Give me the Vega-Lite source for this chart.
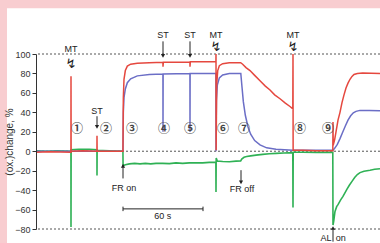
{
  "$schema": "https://vega.github.io/schema/vega-lite/v6.json",
  "width": 344,
  "height": 175,
  "autosize": "none",
  "padding": {"left": 36, "top": 54, "right": 0, "bottom": 14},
  "background": "#f8cdd0",
  "config": {"view": {"stroke": null}, "font": "Liberation Sans"},
  "datasets": {
    "traces": [
      {"s":"r","t":0,"v":-1},{"s":"r","t":10,"v":-0.5},{"s":"r","t":26.2,"v":-1},{"s":"r","t":26.25,"v":77},{"s":"r","t":26.35,"v":0},{"s":"r","t":35,"v":0.5},{"s":"r","t":45.7,"v":0},{"s":"r","t":45.75,"v":16},{"s":"r","t":45.85,"v":0},{"s":"r","t":55,"v":0},{"s":"r","t":65.2,"v":0},{"s":"r","t":65.5,"v":55},{"s":"r","t":66,"v":74},{"s":"r","t":67,"v":83},{"s":"r","t":68.5,"v":87.5},{"s":"r","t":71,"v":89.5},{"s":"r","t":76,"v":90.5},{"s":"r","t":85,"v":91},{"s":"r","t":95.2,"v":91.5},{"s":"r","t":95.25,"v":87},{"s":"r","t":95.5,"v":91.5},{"s":"r","t":105,"v":91.5},{"s":"r","t":115.45,"v":91.5},{"s":"r","t":115.5,"v":87},{"s":"r","t":115.75,"v":92},{"s":"r","t":125,"v":92},{"s":"r","t":134.95,"v":92},{"s":"r","t":135,"v":100},{"s":"r","t":135.1,"v":1},{"s":"r","t":135.5,"v":68},{"s":"r","t":136.3,"v":83},{"s":"r","t":137.5,"v":88},{"s":"r","t":140,"v":90},{"s":"r","t":145,"v":91},{"s":"r","t":153.5,"v":91},{"s":"r","t":155,"v":89.5},{"s":"r","t":157.5,"v":86},{"s":"r","t":160.5,"v":83},{"s":"r","t":164,"v":78},{"s":"r","t":168,"v":72.5},{"s":"r","t":172,"v":67},{"s":"r","t":175.5,"v":63},{"s":"r","t":179,"v":58},{"s":"r","t":183,"v":54},{"s":"r","t":187,"v":49.5},{"s":"r","t":190.5,"v":46},{"s":"r","t":192.6,"v":43.5},{"s":"r","t":192.75,"v":100},{"s":"r","t":192.85,"v":1},{"s":"r","t":200,"v":1},{"s":"r","t":210,"v":0.5},{"s":"r","t":222.6,"v":0.5},{"s":"r","t":222.75,"v":30},{"s":"r","t":222.9,"v":6},{"s":"r","t":224,"v":12},{"s":"r","t":225,"v":20},{"s":"r","t":226.5,"v":32},{"s":"r","t":228,"v":40},{"s":"r","t":229.5,"v":50},{"s":"r","t":231,"v":58},{"s":"r","t":232.5,"v":65},{"s":"r","t":234,"v":70},{"s":"r","t":235.5,"v":74},{"s":"r","t":237,"v":77},{"s":"r","t":238.5,"v":79},{"s":"r","t":241,"v":80},{"s":"r","t":245,"v":80.5},{"s":"r","t":258,"v":80},
      {"s":"b","t":0,"v":0},{"s":"b","t":65.25,"v":0},{"s":"b","t":65.5,"v":40},{"s":"b","t":66,"v":55},{"s":"b","t":67,"v":64},{"s":"b","t":68.5,"v":70.5},{"s":"b","t":71,"v":74.5},{"s":"b","t":76,"v":77.5},{"s":"b","t":85,"v":79},{"s":"b","t":95.2,"v":79.5},{"s":"b","t":95.25,"v":20},{"s":"b","t":95.35,"v":79.5},{"s":"b","t":115.45,"v":80},{"s":"b","t":115.5,"v":20},{"s":"b","t":115.6,"v":80},{"s":"b","t":134.95,"v":80},{"s":"b","t":135,"v":0},{"s":"b","t":135.3,"v":52},{"s":"b","t":136,"v":68},{"s":"b","t":137.5,"v":75.5},{"s":"b","t":140,"v":78.5},{"s":"b","t":145,"v":80},{"s":"b","t":153.6,"v":80},{"s":"b","t":154.5,"v":66},{"s":"b","t":155.5,"v":51},{"s":"b","t":157,"v":37},{"s":"b","t":159,"v":25},{"s":"b","t":161,"v":17.5},{"s":"b","t":164,"v":11},{"s":"b","t":168,"v":6.5},{"s":"b","t":173,"v":3.5},{"s":"b","t":180,"v":2},{"s":"b","t":192.75,"v":1},{"s":"b","t":210,"v":1},{"s":"b","t":222.75,"v":1},{"s":"b","t":224,"v":3},{"s":"b","t":226,"v":7},{"s":"b","t":228,"v":13},{"s":"b","t":230,"v":19.5},{"s":"b","t":232,"v":26},{"s":"b","t":234,"v":32},{"s":"b","t":236,"v":36.5},{"s":"b","t":238,"v":39.5},{"s":"b","t":240,"v":41},{"s":"b","t":243,"v":42},{"s":"b","t":250,"v":42},{"s":"b","t":258,"v":41.5},
      {"s":"g","t":0,"v":0.5},{"s":"g","t":8,"v":0},{"s":"g","t":16,"v":0.5},{"s":"g","t":26.2,"v":0},{"s":"g","t":26.25,"v":-78},{"s":"g","t":26.35,"v":1.5},{"s":"g","t":32,"v":2},{"s":"g","t":40,"v":2},{"s":"g","t":45.7,"v":1.5},{"s":"g","t":45.75,"v":-25},{"s":"g","t":45.85,"v":1},{"s":"g","t":55,"v":0.5},{"s":"g","t":65.2,"v":0},{"s":"g","t":65.3,"v":-15},{"s":"g","t":67,"v":-14},{"s":"g","t":70,"v":-13},{"s":"g","t":74,"v":-12.5},{"s":"g","t":78,"v":-13},{"s":"g","t":82,"v":-12.5},{"s":"g","t":86,"v":-13},{"s":"g","t":90,"v":-12.5},{"s":"g","t":95,"v":-12.5},{"s":"g","t":100,"v":-12.8},{"s":"g","t":105,"v":-12},{"s":"g","t":110,"v":-12.5},{"s":"g","t":115,"v":-12},{"s":"g","t":120,"v":-11.8},{"s":"g","t":125,"v":-12},{"s":"g","t":130,"v":-11.5},{"s":"g","t":134.9,"v":-11.2},{"s":"g","t":135,"v":-42},{"s":"g","t":135.15,"v":-7},{"s":"g","t":136,"v":-10},{"s":"g","t":140,"v":-10.5},{"s":"g","t":145,"v":-10.8},{"s":"g","t":150,"v":-10.2},{"s":"g","t":153.5,"v":-10},{"s":"g","t":154.3,"v":-8},{"s":"g","t":156,"v":-6.2},{"s":"g","t":158,"v":-5.5},{"s":"g","t":161,"v":-4.8},{"s":"g","t":165,"v":-4},{"s":"g","t":170,"v":-3.2},{"s":"g","t":175,"v":-2.6},{"s":"g","t":180,"v":-2.2},{"s":"g","t":186,"v":-1.8},{"s":"g","t":192.6,"v":-1.4},{"s":"g","t":192.75,"v":-58},{"s":"g","t":192.9,"v":-1},{"s":"g","t":200,"v":-1},{"s":"g","t":210,"v":-1.2},{"s":"g","t":222.6,"v":-1},{"s":"g","t":222.75,"v":-76},{"s":"g","t":223.3,"v":-72},{"s":"g","t":224.25,"v":-62},{"s":"g","t":225.5,"v":-57},{"s":"g","t":226.5,"v":-55},{"s":"g","t":228.5,"v":-50},{"s":"g","t":230.25,"v":-46.5},{"s":"g","t":233.25,"v":-39},{"s":"g","t":235,"v":-35},{"s":"g","t":237,"v":-31},{"s":"g","t":239,"v":-27},{"s":"g","t":241,"v":-24},{"s":"g","t":243,"v":-22},{"s":"g","t":246,"v":-20.5},{"s":"g","t":250.5,"v":-19.5},{"s":"g","t":254,"v":-18.5},{"s":"g","t":258,"v":-18}
    ]
  },
  "encoding": {
    "x": {"field": "t", "type": "quantitative", "scale": {"domain": [0, 258], "nice": false, "zero": false}, "axis": null},
    "y": {"field": "v", "type": "quantitative", "scale": {"domain": [-80, 100], "nice": false, "zero": false},
      "axis": {"values": [-80,-60,-40,-20,0,20,40,60,80,100], "title": "(ox.)change, %", "titleFont": "Liberation Sans", "titleFontSize": 10, "titleFontWeight": "normal", "titleColor": "#333", "titlePadding": 0, "labelFont": "Liberation Sans", "labelFontSize": 9, "labelColor": "#333", "labelPadding": 2, "tickSize": 4, "tickColor": "#333", "domainColor": "#333", "grid": false, "zindex": 1}}
  },
  "layer": [
    {"data": {"values": [{"t": -21.75, "t2": 280, "v": 147, "v2": -110}]},
     "mark": {"type": "rect", "color": "white", "clip": false},
     "encoding": {"x2": {"field": "t2"}, "y2": {"field": "v2"}}},
    {"data": {"values": [{"v": 100}, {"v": 0}, {"v": -80}]},
     "mark": {"type": "rule", "color": "#555", "strokeDash": [2, 2], "strokeWidth": 1},
     "encoding": {"x": null}},
    {"data": {"name": "traces"}, "transform": [{"filter": "datum.s == 'g'"}],
     "mark": {"type": "line", "color": "#2fb155", "strokeWidth": 1.6}},
    {"data": {"name": "traces"}, "transform": [{"filter": "datum.s == 'b'"}],
     "mark": {"type": "line", "color": "#6b6ec6", "strokeWidth": 1.5}},
    {"data": {"name": "traces"}, "transform": [{"filter": "datum.s == 'r'"}],
     "mark": {"type": "line", "color": "#e5483f", "strokeWidth": 1.5}},
    {"data": {"values": [
      {"t": 45.75, "v": 36, "v2": 25},
      {"t": 95.25, "v": 113, "v2": 98},
      {"t": 115.5, "v": 113, "v2": 98},
      {"t": 65.25, "v": -28, "v2": -14},
      {"t": 153.75, "v": -19.5, "v2": -32},
      {"t": 222.75, "v": -93, "v2": -80}
    ]},
     "mark": {"type": "rule", "color": "#222", "strokeWidth": 1},
     "encoding": {"y2": {"field": "v2"}}},
    {"data": {"values": [
      {"t": 45.75, "v": 25, "d": "down"},
      {"t": 95.25, "v": 98, "d": "down"},
      {"t": 115.5, "v": 98, "d": "down"},
      {"t": 65.25, "v": -15, "d": "up"},
      {"t": 153.75, "v": -32, "d": "down"},
      {"t": 222.75, "v": -79, "d": "up"}
    ]},
     "mark": {"type": "point", "filled": true, "color": "#222", "size": 18, "opacity": 1},
     "encoding": {"shape": {"field": "d", "type": "nominal", "scale": {"domain": ["up", "down"], "range": ["triangle-up", "triangle-down"]}, "legend": null}}},
    {"data": {"values": [
      {"t": 26.25, "v": 90},
      {"t": 135, "v": 107},
      {"t": 192.75, "v": 107}
    ]},
     "mark": {"type": "text", "text": "↯", "font": "DejaVu Sans", "fontSize": 13, "color": "#222"}},
    {"data": {"values": [
      {"t": 26.25, "v": 105, "txt": "MT"},
      {"t": 45.75, "v": 41, "txt": "ST"},
      {"t": 95.25, "v": 119.5, "txt": "ST"},
      {"t": 115.5, "v": 119.5, "txt": "ST"},
      {"t": 135, "v": 119.5, "txt": "MT"},
      {"t": 192.75, "v": 119.5, "txt": "MT"},
      {"t": 66, "v": -38, "txt": "FR on"},
      {"t": 154.5, "v": -39, "txt": "FR off"},
      {"t": 95, "v": -66.5, "txt": "60 s"},
      {"t": 217.5, "v": -89.5, "txt": "AL"},
      {"t": 228.5, "v": -89.5, "txt": "on"}
    ]},
     "mark": {"type": "text", "font": "Liberation Sans", "fontSize": 9, "color": "#222"},
     "encoding": {"text": {"field": "txt"}}},
    {"data": {"values": [
      {"t": 30.75, "v": 22.5, "txt": "①"}, {"t": 52.5, "v": 22.5, "txt": "②"}, {"t": 72, "v": 22.5, "txt": "③"},
      {"t": 96, "v": 22.5, "txt": "④"}, {"t": 115.5, "v": 22.5, "txt": "⑤"}, {"t": 140.25, "v": 22.5, "txt": "⑥"},
      {"t": 156, "v": 22.5, "txt": "⑦"}, {"t": 198, "v": 22.5, "txt": "⑧"}, {"t": 219, "v": 22.5, "txt": "⑨"}
    ]},
     "mark": {"type": "text", "font": "Noto Sans CJK SC", "fontSize": 12, "fontWeight": "bold", "color": "#444"},
     "encoding": {"text": {"field": "txt"}}},
    {"data": {"values": [{"t": 65.25, "t2": 125.25, "v": -59.3}]},
     "mark": {"type": "rule", "color": "#222", "strokeWidth": 1},
     "encoding": {"x2": {"field": "t2"}}},
    {"data": {"values": [{"t": 65.25, "v": -57, "v2": -61.6}, {"t": 125.25, "v": -57, "v2": -61.6}]},
     "mark": {"type": "rule", "color": "#222", "strokeWidth": 1},
     "encoding": {"y2": {"field": "v2"}}}
  ]
}
